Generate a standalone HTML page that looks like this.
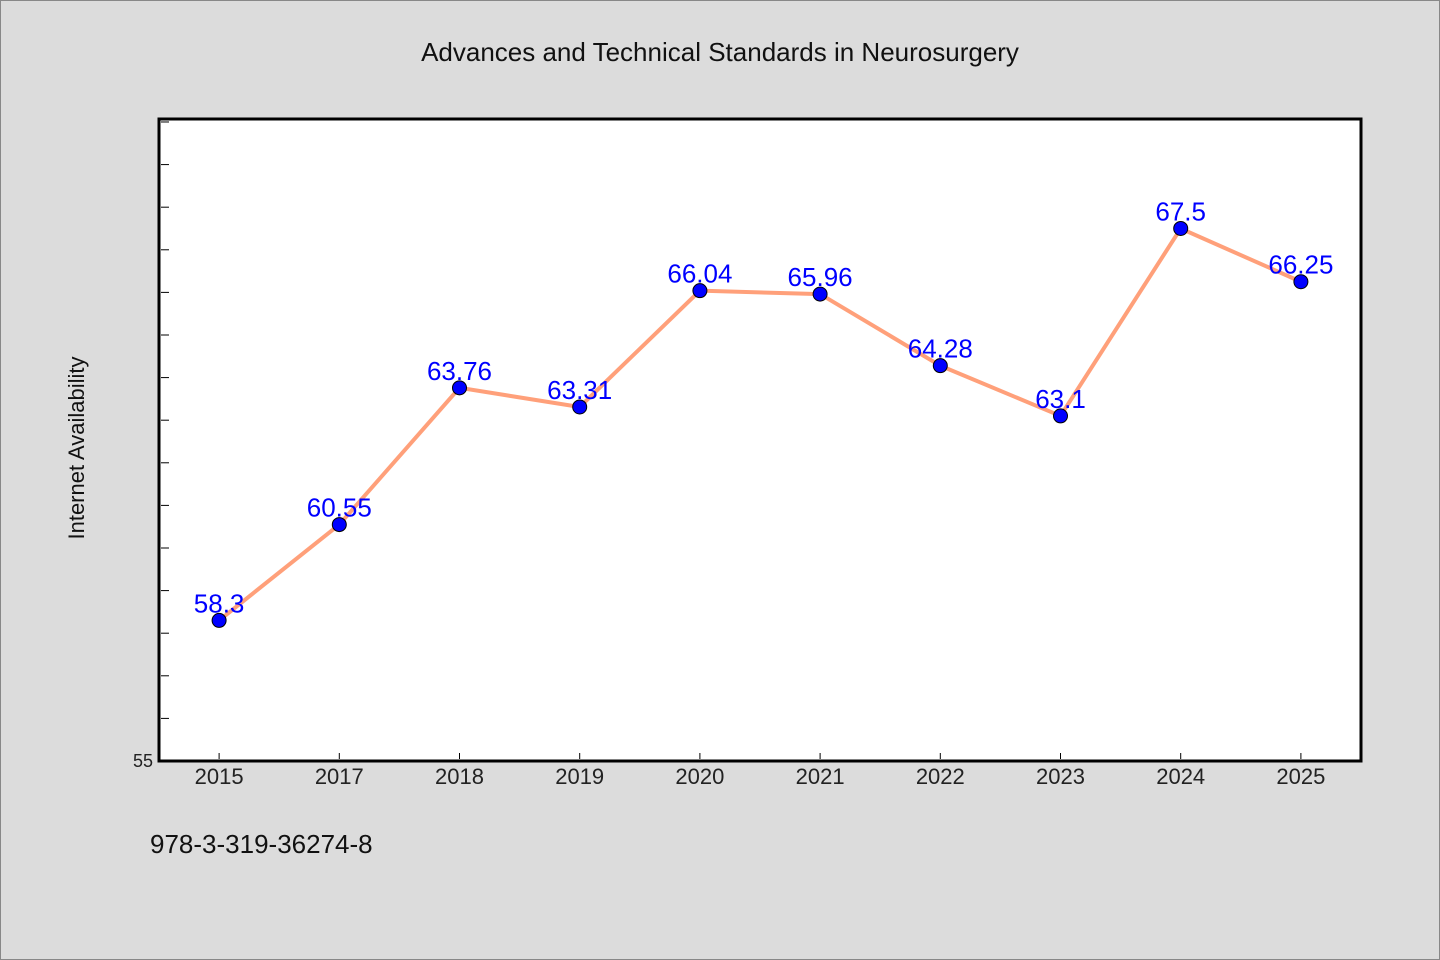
<!DOCTYPE html>
<html><head><meta charset="utf-8"><style>
body{margin:0;background:#dcdcdc;}
svg{display:block;font-family:"WenQuanYi Zen Hei","Liberation Sans",sans-serif;}
</style></head><body>
<svg width="1440" height="960">
<rect x="0.5" y="0.5" width="1439" height="959" fill="#dcdcdc" stroke="#888"/>
<text x="720" y="61" text-anchor="middle" font-size="26" fill="#111">Advances and Technical Standards in Neurosurgery</text>
<rect x="159" y="119" width="1202" height="642" fill="#fff" stroke="#000" stroke-width="3"/>
<text transform="translate(84,448) rotate(-90)" text-anchor="middle" font-size="22" fill="#111">Internet Availability</text>
<text x="150" y="853" font-size="26" fill="#111">978-3-319-36274-8</text>
<g id="g"></g>
</svg>
<script>
const categories=["2015","2017","2018","2019","2020","2021","2022","2023","2024","2025"];
const values=[58.3,60.55,63.76,63.31,66.04,65.96,64.28,63.1,67.5,66.25];
const labels=["58.3","60.55","63.76","63.31","66.04","65.96","64.28","63.1","67.5","66.25"];
const yMin=55,yMax=70.07;
const L=159,R=1361,T=119,B=761;
const ns="http://www.w3.org/2000/svg",g=document.getElementById('g');
const bw=(R-L)/categories.length;
const x=i=>L+bw*(i+0.5);
const y=v=>B-(v-yMin)/(yMax-yMin)*(B-T);
function mk(t,a){const e=document.createElementNS(ns,t);for(const k in a)e.setAttribute(k,a[k]);g.appendChild(e);return e;}
for(let v=56;v<yMax;v++){const t=mk('line',{x1:L+2,x2:L+10,y1:y(v),y2:y(v),stroke:'#000','stroke-width':1});

}
const t0=mk('text',{x:L-6,y:B+6,'text-anchor':'end','font-size':18,fill:'#222'});t0.textContent='55';


categories.forEach((c,i)=>{const tk=mk('line',{x1:x(i),x2:x(i),y1:B-2,y2:B-8,stroke:'#000'});


const t=mk('text',{x:x(i),y:B+23,'text-anchor':'middle','font-size':22,fill:'#222'});t.textContent=c;

});
const pl=mk('polyline',{points:values.map((v,i)=>x(i)+','+y(v)).join(' '),fill:'none',stroke:'#ffa07a','stroke-width':4});


values.forEach((v,i)=>{const t=mk('text',{x:x(i),y:y(v)-8,'text-anchor':'middle','font-size':26,fill:'#0000ff'});t.textContent=labels[i];


const c=mk('circle',{cx:x(i),cy:y(v),r:7,fill:'#0000ff',stroke:'#000','stroke-width':1});

});
</script>
</body></html>
